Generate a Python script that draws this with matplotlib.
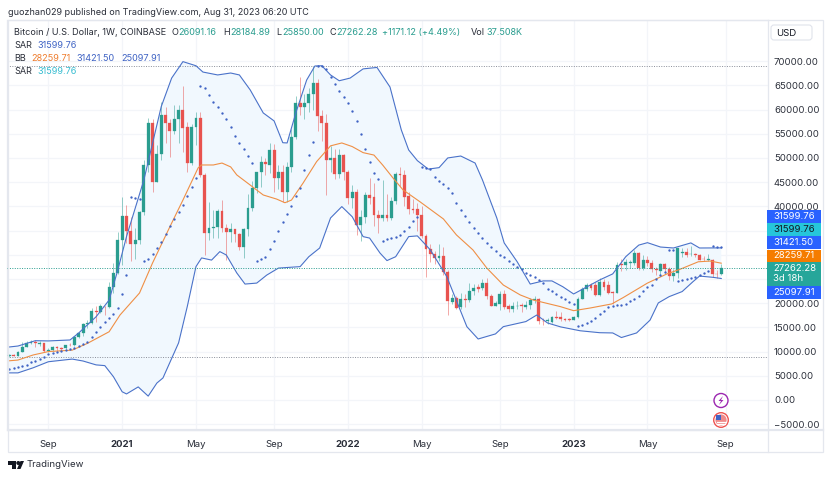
import numpy as np
import matplotlib.pyplot as plt
from matplotlib.patches import Circle, Rectangle, FancyBboxPatch, Polygon

opens = [9000, 9300, 9170, 9900, 11000, 11700, 11900, 11500, 11700, 10200,
         10400, 10950, 10800, 10700, 11400, 11350, 12950, 13770, 15700, 16000,
         18400, 18200, 19300, 19200, 23400, 26200, 33000, 38000, 34900, 32300,
         33000, 38800, 48500, 57300, 45100, 50800, 58900, 57300, 55600, 58000,
         59900, 56300, 48900, 56300, 58200, 46500, 34600, 35500, 35700, 39000,
         35500, 34700, 35300, 34200, 31700, 35400, 39700, 43800, 47000, 49200,
         48500, 51600, 45900, 47100, 43000, 48200, 54400, 61300, 60600, 61300,
         63200, 65500, 58600, 57200, 49500, 49900, 46600, 50600, 47200, 41800,
         42900, 36200, 37700, 42300, 41900, 38200, 37600, 38200, 37600, 41100,
         46700, 46400, 42200, 39400, 39400, 38300, 33900, 31200, 30200, 29300,
         29800, 26500, 20300, 21100, 19200, 20900, 20700, 22500, 23300, 23200,
         24200, 21500, 19500, 19800, 21900, 19400, 18900, 19400, 19600, 19200,
         19600, 20700, 20900, 16400, 16300, 16200, 17100, 17100, 16800, 16700,
         16600, 17100, 20900, 22900, 23800, 23800, 21700, 24400, 23800, 22300,
         22100, 28000, 27900, 28400, 28400, 30300, 27300, 29000, 28400, 27000,
         26700, 28000, 27000, 25700, 26300, 30300, 30500, 30100, 30200, 29900,
         29200, 29000, 29000, 26100, 26091.16]
highs = [9500, 9400, 10100, 12050, 12100, 12400, 12400, 12100, 11800, 10700,
         11200, 11100, 10950, 11450, 11700, 13200, 14000, 15950, 16500, 19050,
         19400, 19900, 19400, 24300, 28400, 34800, 41900, 40300, 37800, 35500,
         39000, 49600, 58200, 58000, 52600, 61650, 60600, 58000, 60950, 61000,
         64800, 57500, 57000, 59550, 59500, 46900, 41000, 39300, 39500, 41300,
         36400, 36600, 35400, 34600, 35500, 42600, 45300, 47100, 50500, 50000,
         53000, 52900, 48500, 48500, 49200, 56000, 62900, 66800, 63300, 64500,
         69000, 66400, 60000, 59100, 52500, 51800, 51900, 50800, 47500, 44500,
         43500, 39300, 42900, 45800, 44800, 39300, 45400, 42500, 42000, 47000,
         48100, 47500, 43000, 41500, 40700, 40000, 34200, 32300, 30700, 32300,
         31700, 26800, 21900, 21500, 22000, 21800, 24200, 24000, 24000, 25000,
         25100, 21800, 20500, 22500, 22700, 19800, 20200, 20400, 20000, 20400,
         21000, 21500, 21000, 17000, 16900, 17400, 18300, 18250, 16900, 17000,
         17300, 21300, 23300, 24100, 24200, 24300, 25200, 25000, 24500, 22600,
         28500, 29100, 29200, 29000, 31000, 30500, 30000, 29800, 28900, 27500,
         28400, 28400, 27400, 27000, 31400, 31400, 31300, 31800, 30400, 30200,
         29700, 30200, 29200, 26900, 28184.89]
lows = [8900, 9000, 9150, 9900, 10900, 11500, 11000, 11200, 9900, 9900,
        10200, 10150, 10400, 10600, 11200, 11200, 12800, 13200, 14800, 15800,
        16200, 18000, 17600, 19000, 22200, 26000, 27800, 32500, 28800, 29200,
        32200, 38200, 47000, 42900, 45000, 49500, 53000, 50300, 55000, 53000,
        51300, 47000, 48500, 52700, 46000, 30000, 33000, 33500, 33500, 34800,
        28900, 32700, 32700, 31000, 29300, 33800, 39000, 42800, 43900, 46500,
        46800, 43000, 43500, 40800, 40800, 47100, 54000, 58900, 58000, 59500,
        60000, 55600, 53400, 42400, 47000, 45600, 45900, 45500, 40500, 39600,
        34100, 32900, 36500, 40500, 36000, 34400, 37000, 37000, 37100, 40500,
        44200, 40000, 38500, 38600, 35000, 33400, 25500, 28500, 28000, 28800,
        25900, 17600, 19800, 18800, 18900, 19300, 20300, 21700, 22300, 22700,
        20800, 19500, 19500, 18600, 18800, 18200, 18200, 18900, 18200, 18800,
        18900, 20000, 15600, 15500, 15700, 16000, 16700, 16400, 16300, 16400,
        16500, 17000, 20800, 22500, 22700, 21500, 21400, 22800, 21900, 19800,
        22000, 26600, 26800, 27200, 27900, 26900, 26900, 27700, 26500, 25900,
        25900, 26300, 24800, 24650, 25200, 29500, 29500, 29700, 29600, 28900,
        28800, 28700, 25400, 25300, 25850]
closes = [9300, 9170, 9900, 11000, 11700, 11900, 11700, 11700, 10200, 10400,
          11000, 10650, 10600, 11400, 11350, 12950, 13770, 15700, 15950, 18400,
          18200, 19500, 19150, 23400, 26200, 33000, 38000, 34900, 32300, 33000,
          38800, 48500, 57300, 45100, 50800, 58900, 57300, 55600, 58000, 59900,
          56100, 48900, 56300, 58200, 46500, 34600, 35500, 35700, 39000, 35500,
          34700, 35300, 34200, 31700, 35400, 39700, 43800, 47000, 49200, 48800,
          51600, 45900, 47100, 43000, 48200, 54400, 61300, 60600, 61300, 63200,
          65500, 58600, 57200, 49500, 50000, 46600, 50600, 47200, 41800, 42900,
          36200, 37700, 42300, 41800, 38200, 37600, 38200, 37600, 41100, 46700,
          46400, 42000, 39400, 39200, 38300, 33900, 31200, 30200, 29300, 29800,
          26400, 20500, 21100, 19000, 20900, 20700, 22500, 23200, 22900, 24200,
          21500, 19500, 20000, 21900, 19300, 18900, 19400, 19500, 19400, 19600,
          20700, 20900, 16400, 16300, 16500, 17100, 17000, 16800, 16600, 16500,
          17100, 20900, 22900, 23800, 23100, 21700, 24400, 23400, 22200, 22100,
          27900, 27900, 28500, 28500, 30300, 27300, 29000, 28400, 27000, 26900,
          28000, 27100, 25600, 26200, 31300, 30500, 30000, 30200, 29900, 29000,
          29100, 29200, 26000, 26000, 27262.28]

sar = [6340, 6680, 6890, 7090, 7300, 7780, 8130, 8540, 8950, 9440,
       9780, 9990, 10190, 10330, 10540, 10810, 11220, 11570, 12050, 13080,
       14110, 15150, 16050, 16880, 17710, 18950, 21900, 25830, 41900, 41700,
       41500, 28780, 29060, 30160, 31470, 32570, 34230, 35950, 37320, 38770,
       40290, 42210, 44070, 45930, 64870, 64400, 63030, 61630, 60470, 59230,
       57990, 56340, 54610, 53030, 51790, 50410, 48900, 28780, 29060, 29610,
       31130, 32910, 34920, 36710, 38430, 40080, 42210, 43860, 47520, 50620,
       53240, 69100, 68950, 68320, 66670, 65290, 63900, 62540, 61360, 59710,
       57700, 54960, 51800, 49110, 46840, 45720, 32850, 33200, 33400, 33610,
       34090, 34920, 35800, 37040, 37870, 48200, 48000, 47660, 46130, 45310,
       44570, 43740, 42700, 40640, 39250, 38010, 36840, 35600, 34440, 33410,
       32500, 31670, 30850, 29960, 29480, 28720, 28030, 27540, 27000, 26300,
       25830, 25470, 24790, 24230, 22870, 22520, 21900, 21220, 20800, 20310,
       19830, 15350, 15500, 15850, 16320, 16880, 17700, 18450, 19150, 19480,
       19630, 19560, 19900, 20390, 20870, 21550, 22520, 23280, 23760, 24930,
       25830, 26440, 30990, 30990, 24650, 24790, 24930, 25130, 25340, 25830,
       26170, 26710, 31810, 31680, 31599.76]

upper_x = [0, 2, 6, 9, 14, 16, 20, 23, 25, 27, 31, 35, 37.4, 40, 43, 44.6, 48, 51, 53,
           55.5, 58.5, 61, 63, 64, 66, 68.5, 70.4, 72, 74, 76, 78.5, 81.5, 84.7, 87.7,
           90.3, 92, 94, 96.5, 99, 101, 104, 107.3, 109, 112.3, 114, 117, 120, 123,
           125, 127.5, 130, 133, 136, 139, 142, 145, 147, 150, 153, 157, 159, 164]
upper_y = [10950, 11150, 12250, 12200, 12400, 13850, 17200, 20650, 26850, 33750, 45450,
           60600, 66500, 69900, 69050, 67750, 67150, 67550, 67150, 64050, 59300, 57650,
           53150, 53100, 59300, 66100, 69000, 69050, 67150, 65950, 66500, 68400, 68700,
           64650, 55800, 51650, 49450, 47700, 48000, 50000, 50400, 48950, 45450, 37600,
           32450, 28550, 23950, 24600, 24600, 23400, 21900, 23350, 24800, 26050, 29600,
           32000, 32500, 31600, 31400, 32450, 31400, 31421.5]
lower_x = [0, 2, 5.5, 9, 14.5, 17, 20, 22, 24, 26, 27, 29.7, 32, 34, 35.4, 39, 41, 43,
           44.3, 46.6, 48.5, 50, 52.4, 54.3, 57, 59.3, 62, 67, 69, 71.5, 74, 76.6, 79,
           81.5, 83, 85.4, 87, 89, 92, 94, 97, 100.8, 105.4, 108, 112, 113.8, 119,
           121.5, 124, 127, 131.5, 136, 139, 141, 144.5, 147.6, 149.5, 152, 155,
           157.5, 159, 162, 164]
lower_y = [5600, 5600, 6650, 7900, 8450, 8050, 7250, 7100, 4800, 1700, 1250, 2700, 800,
           3500, 4550, 11800, 19300, 27550, 29350, 28900, 30650, 29950, 26250, 23950,
           24150, 25800, 27250, 27550, 29600, 31400, 37600, 39950, 37850, 33750, 33450,
           30350, 28800, 29600, 33750, 33900, 31000, 25450, 15150, 12600, 13650, 15150,
           16200, 17550, 15900, 15100, 14300, 13900, 13850, 12900, 13850, 16500, 20050,
           21350, 22400, 24450, 25600, 25350, 25097.91]
basis_x = [0, 2, 5.5, 9, 14.5, 18, 23, 25.5, 30, 33, 37, 40, 43.5, 44.3, 47, 49, 51,
           52.4, 55.5, 58.5, 61.6, 63.5, 65, 67.7, 70.8, 74, 76.6, 79, 81.5, 84, 86,
           88.4, 90.7, 94.6, 100, 103, 106.8, 110, 113.8, 117.7, 120.7, 126.9, 130,
           133.8, 138.8, 141.4, 147, 151.5, 154.5, 158.7, 161.5, 164]
basis_y = [8100, 8250, 9300, 10000, 10300, 11700, 14100, 17550, 22100, 28300, 35800,
           41300, 47950, 48550, 48550, 48950, 48150, 46500, 44400, 42350, 41500, 40750,
           41300, 44850, 49250, 52500, 53100, 52350, 51100, 50600, 48550, 45850, 43400,
           40950, 37400, 34100, 31000, 27250, 23750, 21700, 20650, 19300, 18450, 19000,
           19850, 21150, 24150, 26050, 27000, 28550, 28700, 28259.71]

price_ticks = list(range(-5000, 75000, 5000))
# 被价格标签盖住的刻度不写文字
price_hidden = [25000, 30000, 35000]
time_ticks = [9, 26, 43, 61, 78, 95, 113, 130, 147, 165]
time_labels = ["Sep", "2021", "May", "Sep", "2022", "May", "Sep", "2023", "May", "Sep"]
# 最高价、最低价、现价的虚线
level_high = 69000
level_low = 8900
level_last = 27262.28

if __name__ == '__main__':
    plt.rcParams['font.family'] = ['Inter', 'DejaVu Sans']
    plt.figure(1, figsize=(8.32, 4.78), dpi=100)
    ax = plt.axes([7.5 / 832, 1 - 430 / 478, 760.2 / 832, 410 / 478])
    up = '#2a9d8f'
    down = '#e8534f'

    # 布林带的填充和边线
    plt.fill(upper_x + lower_x[::-1], upper_y + lower_y[::-1], color='#f1f8fe', linewidth=0, zorder=1)
    plt.plot(upper_x, upper_y, color='#4a72c9', linewidth=0.8, zorder=4)
    plt.plot(lower_x, lower_y, color='#4a72c9', linewidth=0.8, zorder=4)
    plt.plot(basis_x, basis_y, color='#ef8f45', linewidth=0.8, zorder=4)

    # 周线蜡烛图
    x = np.arange(len(closes))
    o, h, l, c = np.array(opens), np.array(highs), np.array(lows), np.array(closes)
    colors = np.where(c >= o, up, down)
    plt.vlines(x, l, h, colors=colors, linewidth=0.7, alpha=0.5, zorder=2)
    plt.bar(x, np.abs(c - o), bottom=np.minimum(o, c), width=0.66, color=colors,
            edgecolor=colors, linewidth=0.2, zorder=3)

    # SAR 点
    plt.plot(x, sar, linestyle='none', marker='o', markersize=1.7, markeredgewidth=0, color='#3f63c4', zorder=5)

    # 水平虚线
    plt.axhline(level_high, color='#8a8e99', linewidth=0.7, linestyle=(0, (1, 1.5)), zorder=2)
    plt.axhline(level_low, color='#8a8e99', linewidth=0.7, linestyle=(0, (1, 1.5)), zorder=2)
    plt.axhline(level_last, color='#2a9d8f', linewidth=0.7, linestyle=(0, (1, 1.5)), zorder=5)

    plt.xlim(-0.41, 174.7)
    plt.ylim(-6200, 78500)
    plt.xticks(time_ticks, time_labels)
    price_labels = []
    for v in price_ticks:
        if v in price_hidden:
            price_labels.append('')
        elif v < 0:
            price_labels.append('\u2212%.2f' % -v)
        else:
            price_labels.append('%.2f' % v)
    plt.yticks(price_ticks, price_labels)
    ax.yaxis.tick_right()
    ax.tick_params(axis='both', length=0, labelsize=6.9, labelcolor='#2a2e39')
    ax.tick_params(axis='x', pad=7)
    ax.tick_params(axis='y', pad=4.5)
    for label in ax.get_xticklabels():
        if label.get_text().isdigit():
            label.set_fontweight('bold')
    ax.set_axisbelow(True)
    plt.grid(color='#f3f5f9', linewidth=0.9)
    for side in ax.spines:
        ax.spines[side].set_color('#e4e7ee')
        ax.spines[side].set_linewidth(0.9)

    # 用整张图的像素坐标放置说明文字、价格标签和图标
    ov = plt.axes([0, 0, 1, 1], zorder=10)
    ov.set_xlim(0, 832)
    ov.set_ylim(478, 0)
    ov.axis('off')
    ov.patch.set_alpha(0)

    ov.add_patch(Rectangle((7.5, 20), 815, 431.5, fill=False, edgecolor='#e4e7ee', linewidth=0.9))
    ov.plot([7.5, 822.5], [430, 430], color='#e4e7ee', linewidth=1.6)
    ov.plot([767.7, 767.7], [430, 451.5], color='#e4e7ee', linewidth=0.9)
    ov.add_patch(FancyBboxPatch((771, 25), 41, 15, boxstyle='round,pad=0,rounding_size=3',
                                facecolor='white', edgecolor='#e0e3eb', linewidth=0.8))
    ov.text(786, 33, 'USD', fontsize=6.9, color='#131722', ha='center', va='center')

    ov.text(8, 12.5, 'guozhan029 published on TradingView.com, Aug 31, 2023 06:20 UTC',
            fontsize=6.5, color='#2a2e39', va='center')

    # 图例行
    dark = '#2a2e39'
    teal = '#2a9d8f'
    legend = [(14, 32.5, 'Bitcoin / U.S. Dollar, 1W, COINBASE', dark),
              (171, 32.5, 'O', dark), (178, 32.5, '26091.16', teal),
              (223, 32.5, 'H', dark), (230, 32.5, '28184.89', teal),
              (276, 32.5, 'L', dark), (282, 32.5, '25850.00', teal),
              (329, 32.5, 'C', dark), (336, 32.5, '27262.28', teal),
              (382, 32.5, '+1171.12 (+4.49%)', teal),
              (471, 32.5, 'Vol', dark), (486, 32.5, '37.508K', teal),
              (14, 45.5, 'SAR', dark), (37, 45.5, '31599.76', '#3f63c4'),
              (14, 58.5, 'BB', dark), (31, 58.5, '28259.71', '#ef7d2e'),
              (76, 58.5, '31421.50', '#3f63c4'), (121, 58.5, '25097.91', '#3f63c4'),
              (14, 71.5, 'SAR', dark), (37, 71.5, '31599.76', '#35bcd0')]
    for lx, ly, text, color in legend:
        ov.text(lx, ly, text, fontsize=6.55, color=color, va='center')

    # 右侧价格标签
    tags = [(210, 12.5, '#2962ff', '31599.76', 'white'),
            (223, 12.5, '#26c6da', '31599.76', '#131722'),
            (236, 12.5, '#2962ff', '31421.50', 'white'),
            (249.5, 12.5, '#f57c00', '28259.71', 'white'),
            (262, 23.5, '#26a69a', '27262.28', 'white'),
            (286, 12.5, '#2962ff', '25097.91', 'white')]
    for top, height, color, text, tc in tags:
        ov.add_patch(Rectangle((767, top), 53.5, height, facecolor=color, edgecolor='none', zorder=3))
        ov.text(773.3, top + 6.3, text, fontsize=6.9, color=tc, va='center', zorder=4)
    ov.text(773.3, 278.7, '3d 18h', fontsize=6.9, color='white', va='center', zorder=4)

    # 事件图标
    ov.add_patch(Circle((721, 400.5), 7, facecolor='white', edgecolor='#9c27b0', linewidth=1.0))
    ov.add_patch(Polygon([(723, 396), (718.5, 401), (721, 401), (719, 405), (723.5, 400), (721, 400)],
                         facecolor='#9c27b0', edgecolor='none'))
    ov.add_patch(Circle((721, 420), 7.3, facecolor='white', edgecolor='#ef5350', linewidth=1.0))
    ov.add_patch(Circle((721, 420), 5.6, facecolor='#ef8a8a', edgecolor='none'))
    ov.add_patch(Rectangle((716, 415), 5, 4.5, facecolor='#3f63c4', edgecolor='none'))
    ov.plot([716.5, 725.8], [421.5, 421.5], color='white', linewidth=0.9)
    ov.plot([717, 725], [424, 424], color='white', linewidth=0.9)

    # TradingView 标志
    ov.add_patch(Polygon([(8, 461), (16, 461), (16, 469), (12, 469), (12, 465), (8, 465)],
                         facecolor='#131722', edgecolor='none'))
    ov.add_patch(Circle((18.3, 463), 2, facecolor='#131722', edgecolor='none'))
    ov.add_patch(Polygon([(17, 469), (20.5, 461), (24, 461), (20.5, 469)],
                         facecolor='#131722', edgecolor='none'))
    ov.text(26.5, 464.8, 'TradingView', fontsize=6.9, color='#2a2e39', va='center')

    plt.savefig('out.png', dpi=100)
